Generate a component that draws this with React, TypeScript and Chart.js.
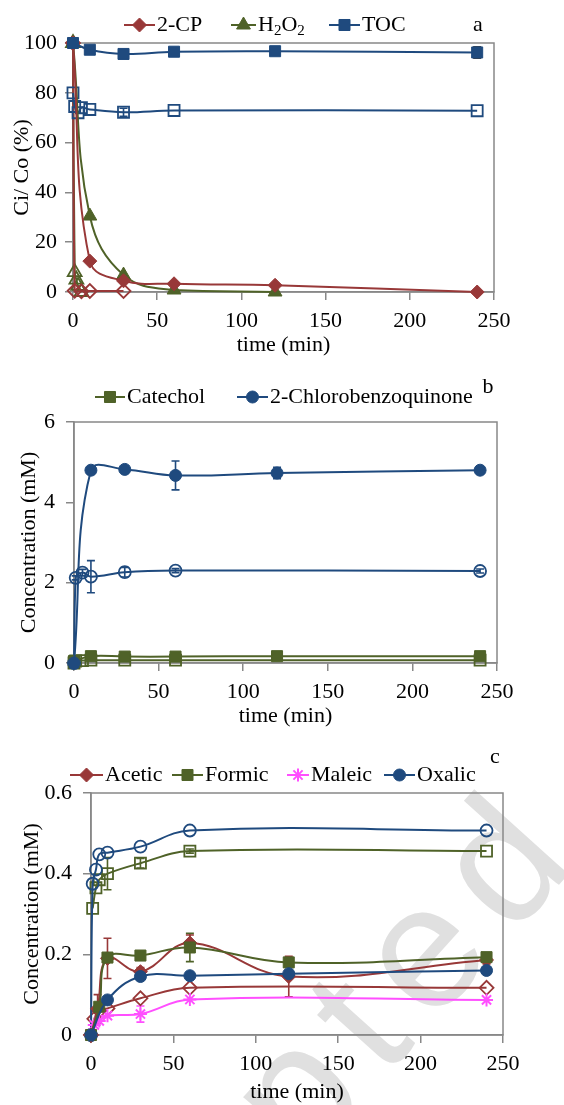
import React, { useEffect, useRef } from "react";
import { Chart, registerables } from "chart.js";
Chart.register(...registerables);

const RED = "#983838";
const GREEN = "#4F6228";
const BLUE = "#1F4A7E";
const PINK = "#FF4FFF";
const AXIS = "#888888";
const FONT = '"Liberation Serif", "Times New Roman", serif';
const FS = 22;

// ---------- ticks ----------
const X_TICKS = [0, 50, 100, 150, 200, 250];
const A_Y_TICKS = [0, 20, 40, 60, 80, 100];
const B_Y_TICKS = [0, 2, 4, 6];
const C_Y_TICKS = [0, 0.2, 0.4, 0.6];

// ---------- panel a ----------
const A_CP_T = [0, 10, 30, 60, 120, 240];
const A_CP = [100, 12.4, 4.5, 3.3, 2.7, 0];
const A_CP_B_T = [0, 1, 5, 10, 30];
const A_CP_B = [100, 0.5, 0.3, 0.4, 0.4];
const A_H2O2_T = [0, 10, 30, 60, 120];
const A_H2O2 = [100, 30.5, 6.8, 0.8, 0];
const A_H2O2_B_T = [0, 1, 2, 3, 5];
const A_H2O2_B = [100, 8, 5, 2.5, 0];
const A_TOC_T = [0, 10, 30, 60, 120, 240];
const A_TOC = [100, 97.3, 95.6, 96.5, 96.7, 96.2];
const A_TOC_ERR = [0, 0.6, 1.4, 0.6, 0.6, 2.2];
const A_TOC_B_T = [0, 1, 3, 5, 10, 30, 60, 240];
const A_TOC_B = [80, 74.5, 72, 74, 73.3, 72.2, 72.9, 72.8];
const A_TOC_B_ERR = [0, 0, 0, 0, 0, 1.6, 0, 0];

// ---------- panel b ----------
const B_CAT_T = [0, 10, 30, 60, 120, 240];
const B_CAT = [0.05, 0.17, 0.16, 0.16, 0.17, 0.17];
const B_CAT_B_T = [0, 1, 5, 10, 30, 60, 240];
const B_CAT_B = [0, 0.05, 0.06, 0.07, 0.07, 0.07, 0.07];
const B_CBQ_T = [0, 10, 30, 60, 120, 240];
const B_CBQ = [0, 4.8, 4.82, 4.67, 4.73, 4.8];
const B_CBQ_ERR = [0, 0.06, 0.06, 0.36, 0.14, 0.05];
const B_CBQ_B_T = [0, 1, 5, 10, 30, 60, 240];
const B_CBQ_B = [0, 2.12, 2.25, 2.15, 2.26, 2.3, 2.29];
const B_CBQ_B_ERR = [0, 0.05, 0.08, 0.4, 0.12, 0.05, 0.05];

// ---------- panel c ----------
const C_ACE_T = [0, 4, 10, 30, 60, 120, 240];
const C_ACE = [0, 0.065, 0.19, 0.157, 0.228, 0.145, 0.186];
const C_ACE_ERR = [0, 0.035, 0.05, 0.01, 0.02, 0.05, 0.01];
const C_ACE_B_T = [0, 2, 5, 10, 30, 60, 240];
const C_ACE_B = [0, 0.04, 0.06, 0.066, 0.091, 0.117, 0.117];
const C_FOR_T = [0, 5, 10, 30, 60, 120, 240];
const C_FOR = [0, 0.07, 0.192, 0.197, 0.217, 0.18, 0.193];
const C_FOR_ERR = [0, 0, 0.005, 0.005, 0.035, 0.01, 0.005];
const C_FOR_B_T = [1, 3, 5, 10, 30, 60, 240];
const C_FOR_B = [0.314, 0.365, 0.385, 0.4, 0.426, 0.456, 0.456];
const C_FOR_B_ERR = [0, 0, 0, 0.04, 0.012, 0.005, 0];
const C_MAL_T = [0, 2, 5, 10, 30, 60, 240];
const C_MAL = [0, 0.025, 0.035, 0.048, 0.052, 0.088, 0.087];
const C_MAL_ERR = [0, 0, 0, 0, 0.02, 0, 0];
const C_OXA_T = [0, 10, 30, 60, 120, 240];
const C_OXA = [0, 0.087, 0.145, 0.147, 0.152, 0.16];
const C_OXA_B_T = [0, 1, 3, 5, 10, 30, 60, 240];
const C_OXA_B = [0, 0.375, 0.41, 0.448, 0.452, 0.467, 0.507, 0.507];

const pts = (t: number[], v: number[]) => t.map((x, i) => ({ x, y: v[i] }));

const R: Record<string, number> = { circle: 6, rect: 7.8, rectRot: 7, triangle: 8, star: 6.5 };

function ds(label: string, t: number[], v: number[], color: string, style: string, filled: boolean, extra: any = {}) {
  return {
    label,
    data: pts(t, v),
    borderColor: color,
    backgroundColor: color,
    borderWidth: 2,
    showLine: true,
    tension: 0.4,
    clip: false,
    pointStyle: style,
    pointRadius: R[style],
    pointHoverRadius: R[style],
    pointBorderColor: color,
    pointBackgroundColor: filled ? color : "rgba(0,0,0,0)",
    pointBorderWidth: style === "star" ? 2 : filled ? 1 : 1.8,
    ...extra,
  };
}

function marker(ctx: CanvasRenderingContext2D, style: string, x: number, y: number, color: string) {
  const r = R[style];
  ctx.save();
  ctx.strokeStyle = color;
  ctx.fillStyle = color;
  ctx.lineWidth = style === "star" ? 2 : 1;
  ctx.beginPath();
  if (style === "circle") ctx.arc(x, y, r, 0, Math.PI * 2);
  else if (style === "rect") {
    const s = r * Math.SQRT1_2;
    ctx.rect(x - s, y - s, 2 * s, 2 * s);
  } else if (style === "rectRot") {
    ctx.moveTo(x, y - r); ctx.lineTo(x + r, y); ctx.lineTo(x, y + r); ctx.lineTo(x - r, y); ctx.closePath();
  } else if (style === "triangle") {
    ctx.moveTo(x, y - r); ctx.lineTo(x + 0.866 * r, y + 0.5 * r); ctx.lineTo(x - 0.866 * r, y + 0.5 * r); ctx.closePath();
  } else if (style === "star") {
    ctx.moveTo(x - r, y); ctx.lineTo(x + r, y);
    ctx.moveTo(x, y - r); ctx.lineTo(x, y + r);
    const d = r * Math.SQRT1_2;
    ctx.moveTo(x - d, y - d); ctx.lineTo(x + d, y + d);
    ctx.moveTo(x - d, y + d); ctx.lineTo(x + d, y - d);
  }
  if (style !== "star") ctx.fill();
  ctx.stroke();
  ctx.restore();
}

const decoPlugin = {
  id: "deco",
  beforeDraw(chart: any, _a: any, opts: any) {
    const wm = opts.watermark;
    if (!wm) return;
    const ctx = chart.ctx as CanvasRenderingContext2D;
    ctx.save();
    ctx.translate(wm.x, wm.y);
    ctx.rotate((wm.angle * Math.PI) / 180);
    ctx.font = `${wm.size}px "Liberation Sans", Arial, sans-serif`;
    (ctx as any).letterSpacing = `${wm.spacing}px`;
    ctx.fillStyle = "#e0e0e0";
    ctx.textBaseline = "alphabetic";
    ctx.textAlign = "left";
    ctx.fillText(wm.text, 0, 0);
    ctx.restore();
  },
  beforeDatasetsDraw(chart: any) {
    const ctx = chart.ctx as CanvasRenderingContext2D;
    const a = chart.chartArea;
    ctx.save();
    ctx.strokeStyle = AXIS;
    ctx.lineWidth = 1.5;
    ctx.strokeRect(a.left, a.top, a.right - a.left, a.bottom - a.top);
    ctx.restore();
    const xs = chart.scales.x, ys = chart.scales.y;
    chart.data.datasets.forEach((d: any) => {
      if (!d.errors) return;
      ctx.save();
      ctx.strokeStyle = d.errColor || d.borderColor;
      ctx.lineWidth = 1.6;
      d.data.forEach((p: any, j: number) => {
        const e = d.errors[j];
        if (!e) return;
        const x = xs.getPixelForValue(p.x);
        const y1 = ys.getPixelForValue(p.y + e);
        const y2 = ys.getPixelForValue(p.y - e);
        ctx.beginPath();
        ctx.moveTo(x, y1); ctx.lineTo(x, y2);
        ctx.moveTo(x - 4, y1); ctx.lineTo(x + 4, y1);
        ctx.moveTo(x - 4, y2); ctx.lineTo(x + 4, y2);
        ctx.stroke();
      });
      ctx.restore();
    });
  },
  afterDraw(chart: any, _a: any, opts: any) {
    const ctx = chart.ctx as CanvasRenderingContext2D;
    const lg = opts.legend;
    if (!lg) return;
    ctx.save();
    ctx.textBaseline = "middle";
    ctx.textAlign = "left";
    for (const it of lg.items) {
      ctx.strokeStyle = it.color;
      ctx.lineWidth = 2;
      ctx.beginPath();
      ctx.moveTo(it.x0, lg.y); ctx.lineTo(it.x1, lg.y);
      ctx.stroke();
      marker(ctx, it.style, (it.x0 + it.x1) / 2, lg.y, it.color);
      ctx.fillStyle = "#000";
      let x = it.x1 + 2;
      for (const part of it.parts) {
        ctx.font = part.sub ? `15px ${FONT}` : `${FS}px ${FONT}`;
        ctx.fillText(part.t, x, lg.y + (part.sub ? 6 : 0));
        x += ctx.measureText(part.t).width;
      }
    }
    ctx.font = `${FS}px ${FONT}`;
    ctx.textAlign = "center";
    ctx.fillStyle = "#000";
    ctx.fillText(lg.letter.t, lg.letter.x, lg.letter.y);
    ctx.restore();
  },
};

function buildConfig(p: any) {
  const font = { family: FONT, size: FS };
  return {
    type: "scatter",
    data: { datasets: p.datasets },
    plugins: [decoPlugin],
    options: {
      responsive: false,
      animation: false,
      events: [],
      layout: { padding: { left: 0, right: p.padRight, top: p.padTop, bottom: 0 } },
      plugins: {
        legend: { display: false },
        tooltip: { enabled: false },
        deco: { legend: p.legend, watermark: p.watermark },
      },
      scales: {
        x: {
          type: "linear",
          min: 0,
          max: 250,
          afterBuildTicks: (s: any) => { s.ticks = X_TICKS.map((v) => ({ value: v })); },
          afterFit: (s: any) => { s.height = p.xH; },
          grid: { drawOnChartArea: false, tickLength: 8, color: AXIS, lineWidth: 1.5 },
          border: { color: AXIS, width: 1.5 },
          ticks: { font, color: "#000", padding: 8, maxRotation: 0, autoSkip: false },
          title: { display: true, text: "time (min)", font, color: "#000", padding: { top: 0, bottom: p.xTitlePad } },
        },
        y: {
          type: "linear",
          min: p.yTicks[0],
          max: p.yTicks[p.yTicks.length - 1],
          afterBuildTicks: (s: any) => { s.ticks = p.yTicks.map((v: number) => ({ value: v })); },
          afterFit: (s: any) => { s.width = p.yW; },
          grid: { drawOnChartArea: false, tickLength: 8, color: AXIS, lineWidth: 1.5 },
          border: { color: AXIS, width: 1.5 },
          ticks: { font, color: "#000", padding: p.yTickPad, autoSkip: false },
          title: { display: true, text: p.yTitle, font, color: "#000", padding: { top: p.yTitlePad, bottom: 0 } },
        },
      },
    },
  };
}

const panelA = () =>
  buildConfig({
    padTop: 43, padRight: 70, xH: 68, yW: 73, xTitlePad: 2, yTitlePad: 8.8, yTickPad: 8,
    yTicks: A_Y_TICKS, yTitle: "Ci/ Co (%)",
    datasets: [
      ds("TOC", A_TOC_T, A_TOC, BLUE, "rect", true, { errors: A_TOC_ERR, errColor: "#000" }),
      ds("2-CP", A_CP_T, A_CP, RED, "rectRot", true),
      ds("H2O2", A_H2O2_T, A_H2O2, GREEN, "triangle", true),
      ds("TOC b", A_TOC_B_T, A_TOC_B, BLUE, "rect", false, { errors: A_TOC_B_ERR }),
      ds("2-CP b", A_CP_B_T, A_CP_B, RED, "rectRot", false),
      ds("H2O2 b", A_H2O2_B_T, A_H2O2_B, GREEN, "triangle", false),
    ],
    legend: {
      y: 25,
      letter: { t: "a", x: 478, y: 25 },
      items: [
        { x0: 124, x1: 155, color: RED, style: "rectRot", parts: [{ t: "2-CP" }] },
        { x0: 231, x1: 256, color: GREEN, style: "triangle", parts: [{ t: "H" }, { t: "2", sub: true }, { t: "O" }, { t: "2", sub: true }] },
        { x0: 329, x1: 360, color: BLUE, style: "rect", parts: [{ t: "TOC" }] },
      ],
    },
  });

const panelB = () =>
  buildConfig({
    padTop: 57, padRight: 67, xH: 72, yW: 74, xTitlePad: 5.8, yTitlePad: 15.8, yTickPad: 11,
    yTicks: B_Y_TICKS, yTitle: "Concentration (mM)",
    datasets: [
      ds("2-Chlorobenzoquinone", B_CBQ_T, B_CBQ, BLUE, "circle", true, { errors: B_CBQ_ERR }),
      ds("Catechol", B_CAT_T, B_CAT, GREEN, "rect", true),
      ds("CBQ b", B_CBQ_B_T, B_CBQ_B, BLUE, "circle", false, { errors: B_CBQ_B_ERR }),
      ds("Catechol b", B_CAT_B_T, B_CAT_B, GREEN, "rect", false),
    ],
    legend: {
      y: 32,
      letter: { t: "b", x: 488, y: 22 },
      items: [
        { x0: 95, x1: 125, color: GREEN, style: "rect", parts: [{ t: "Catechol" }] },
        { x0: 237, x1: 268, color: BLUE, style: "circle", parts: [{ t: "2-Chlorobenzoquinone" }] },
      ],
    },
  });

const panelC = () =>
  buildConfig({
    padTop: 53, padRight: 61, xH: 70, yW: 91, xTitlePad: 0, yTitlePad: 18.8, yTickPad: 11,
    yTicks: C_Y_TICKS, yTitle: "Concentration (mM)",
    datasets: [
      ds("Oxalic", C_OXA_T, C_OXA, BLUE, "circle", true),
      ds("Formic", C_FOR_T, C_FOR, GREEN, "rect", true, { errors: C_FOR_ERR }),
      ds("Acetic", C_ACE_T, C_ACE, RED, "rectRot", true, { errors: C_ACE_ERR }),
      ds("Maleic", C_MAL_T, C_MAL, PINK, "star", false, { errors: C_MAL_ERR }),
      ds("Oxalic b", C_OXA_B_T, C_OXA_B, BLUE, "circle", false),
      ds("Formic b", C_FOR_B_T, C_FOR_B, GREEN, "rect", false, { errors: C_FOR_B_ERR }),
      ds("Acetic b", C_ACE_B_T, C_ACE_B, RED, "rectRot", false),
    ],
    legend: {
      y: 35,
      letter: { t: "c", x: 495, y: 17 },
      items: [
        { x0: 70, x1: 103, color: RED, style: "rectRot", parts: [{ t: "Acetic" }] },
        { x0: 172, x1: 203, color: GREEN, style: "rect", parts: [{ t: "Formic" }] },
        { x0: 287, x1: 309, color: PINK, style: "star", parts: [{ t: "Maleic" }] },
        { x0: 384, x1: 415, color: BLUE, style: "circle", parts: [{ t: "Oxalic" }] },
      ],
    },
    watermark: { text: "Accepted Manuscript", x: -15, y: 782, angle: -48, size: 175, spacing: 22 },
  });

function Panel({ top, height, make }: { top: number; height: number; make: () => any }) {
  const ref = useRef<HTMLCanvasElement>(null);
  useEffect(() => {
    const chart = new Chart(ref.current as HTMLCanvasElement, make() as any);
    return () => chart.destroy();
  }, [make]);
  return (
    <canvas
      ref={ref}
      width={564}
      height={height}
      style={{ position: "absolute", left: 0, top, width: 564, height, display: "block" }}
    />
  );
}

export default function App() {
  return (
    <div style={{ position: "absolute", left: 0, top: 0, width: 564, height: 1105, overflow: "hidden", background: "#fff" }}>
      <Panel top={0} height={360} make={panelA} />
      <Panel top={365} height={370} make={panelB} />
      <Panel top={740} height={365} make={panelC} />
    </div>
  );
}
